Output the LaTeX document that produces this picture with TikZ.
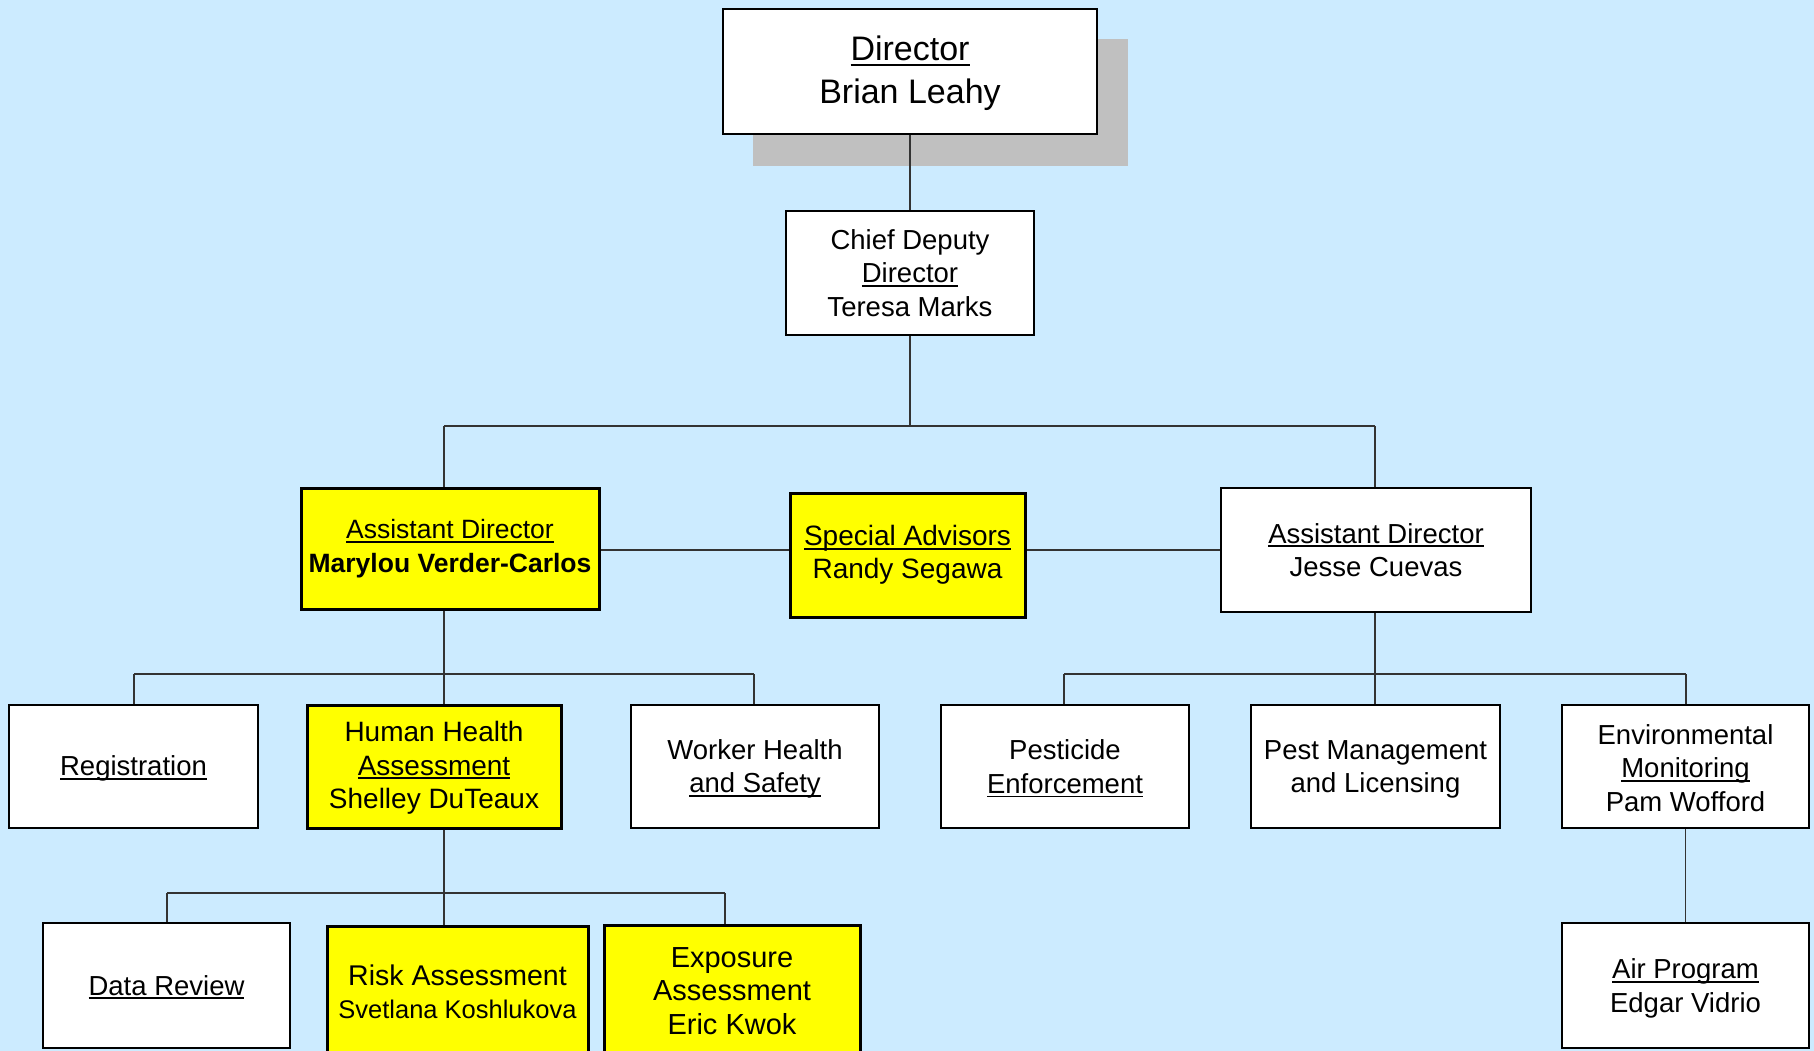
\documentclass[tikz,border=0pt]{standalone}
\usepackage{fontspec}
\setmainfont{Liberation Sans}
\newcommand\ulx[1]{\setbox0\hbox{#1}\rlap{\rule[-0.15em]{\wd0}{0.065em}}\box0}
\newcommand\dn[1]{\rule{0pt}{#1em}}
\definecolor{bgblue}{HTML}{CCEBFF}
\definecolor{shadowgray}{HTML}{C0C0C0}
\definecolor{boxyellow}{HTML}{FFFF00}
\begin{document}
\begin{tikzpicture}[x=1pt,y=-1pt,
  box/.style={draw=black, line width=2pt, fill=white, align=center, inner sep=0pt,
    font=\fontsize{27.5}{33.5}\selectfont},
  ybox/.style={box, fill=boxyellow, line width=3pt, font=\fontsize{28}{33.5}\selectfont},
  conn/.style={draw=black!80, line width=1.3pt}]
\useasboundingbox (0,0) rectangle (1814,1051);
\clip (0,0) rectangle (1814,1051);
\fill[bgblue] (0,0) rectangle (1814,1051);
% shadow of director box
\fill[shadowgray] (753,39) rectangle (1128,166);
% nodes
\node[box, minimum width=374pt, minimum height=125pt, font=\fontsize{34}{43}\selectfont] (dir) at (910,71.5) {\dn{0.85}\ulx{Director}\\Brian Leahy};
\node[box, minimum width=248pt, minimum height=124pt] (chief) at (910,273) {Chief Deputy\\\ulx{Director}\\Teresa Marks};
\node[ybox, minimum width=298pt, minimum height=121pt, font=\fontsize{26.5}{33.5}\selectfont] (adl) at (450,548.5) {\ulx{Assistant Director}\\{\bfseries Marylou Verder-Carlos}};
\node[ybox, minimum width=235pt, minimum height=124pt] (sa) at (907.5,555) {\ulx{Special Advisors}\\Randy Segawa};
\node[box, minimum width=310pt, minimum height=124pt] (adr) at (1376,550) {\ulx{Assistant Director}\\Jesse Cuevas};
\node[box, minimum width=249pt, minimum height=123pt] (reg) at (133.5,766.5) {\dn{0.88}\ulx{Registration}};
\node[ybox, minimum width=254pt, minimum height=123pt] (hha) at (434,766.5) {\dn{0.82}Human Health\\\ulx{Assessment}\\Shelley DuTeaux};
\node[box, minimum width=248pt, minimum height=123pt] (whs) at (755,766.5) {\dn{0.88}Worker Health\\\ulx{and Safety}};
\node[box, minimum width=248pt, minimum height=123pt] (pe) at (1065,766.5) {\dn{0.88}Pesticide\\\ulx{Enforcement}};
\node[box, minimum width=249pt, minimum height=123pt] (pm) at (1375.5,766.5) {\dn{0.88}Pest Management\\and Licensing};
\node[box, minimum width=247pt, minimum height=123pt] (em) at (1685.5,766.5) {\dn{0.82}Environmental\\\ulx{Monitoring}\\Pam Wofford};
\node[box, minimum width=247pt, minimum height=125pt] (dr) at (166.5,985.5) {\dn{0.85}\ulx{Data Review}};
\node[ybox, minimum width=261pt, minimum height=132pt] (ra) at (457.5,992) {{\fontsize{28.5}{33.5}\selectfont Risk Assessment}\\{\fontsize{25.5}{33.5}\selectfont Svetlana Koshlukova}};
\node[ybox, minimum width=256pt, minimum height=132pt, font=\fontsize{29}{33.5}\selectfont] (ex) at (732,991) {Exposure\\Assessment\\Eric Kwok};
\node[box, minimum width=247pt, minimum height=125pt] (air) at (1685.5,985.5) {\dn{0.94}\ulx{Air Program}\\Edgar Vidrio};
% bus coordinates
\coordinate (b1) at (910,426);
\coordinate (b1l) at (444,426);
\coordinate (b1r) at (1375,426);
\coordinate (mid) at (0,550);
\coordinate (b2c) at (444,674);
\coordinate (b2l) at (134,674);
\coordinate (b2r) at (754,674);
\coordinate (b3c) at (1375,674);
\coordinate (b3l) at (1064,674);
\coordinate (b3r) at (1686,674);
\coordinate (b4c) at (444,893);
\coordinate (b4l) at (167,893);
\coordinate (b4r) at (725,893);
% connectors
\draw[conn] (dir.south) -- (chief.north);
\draw[conn] (chief.south) -- (b1);
\draw[conn] (b1l) -- (b1r);
\draw[conn] (b1l) -- (b1l |- adl.north);
\draw[conn] (b1r) -- (b1r |- adr.north);
\draw[conn] (adl.east |- mid) -- (sa.west |- mid);
\draw[conn] (sa.east |- mid) -- (adr.west |- mid);
\draw[conn] (b2c |- adl.south) -- (b2c |- hha.north);
\draw[conn] (b2l) -- (b2r);
\draw[conn] (b2l) -- (b2l |- reg.north);
\draw[conn] (b2r) -- (b2r |- whs.north);
\draw[conn] (b3c |- adr.south) -- (b3c |- pm.north);
\draw[conn] (b3l) -- (b3r);
\draw[conn] (b3l) -- (b3l |- pe.north);
\draw[conn] (b3r) -- (b3r |- em.north);
\draw[conn] (b4c |- hha.south) -- (b4c |- ra.north);
\draw[conn] (b4l) -- (b4r);
\draw[conn] (b4l) -- (b4l |- dr.north);
\draw[conn] (b4r) -- (b4r |- ex.north);
\draw[conn] (em.south) -- (air.north);
\end{tikzpicture}
\end{document}
